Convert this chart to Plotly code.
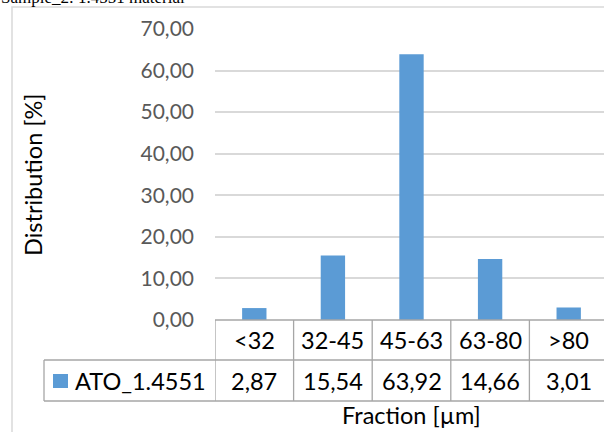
import plotly.graph_objects as go

# Particle size distribution of the powder sample
categories = ["<32", "32-45", "45-63", "63-80", ">80"]
values = [2.87, 15.54, 63.92, 14.66, 3.01]
series_name = "ATO_1.4551"
y_ticks = [0, 10, 20, 30, 40, 50, 60, 70]
chart_title = "Sample_2: 1.4551 material"
x_title = "Fraction [µm]"
y_title = "Distribution [%]"

W, H = 604, 432
L, R, T, B = 215, 604, 29, 320   # plot area edges in pixels
CAT_W = 78.6                     # width of one category column in pixels

BLUE = "#5b9bd5"
GRID = "#d9d9d9"
TABLE = "#a6a6a6"
FONT = "Lato"
FS_TICK = 21
FS = 23.5


def fx(px):
    return (px - L) / (R - L)


def fy(py):
    return (B - py) / (B - T)


def comma(v):
    return f"{v:.2f}".replace(".", ",")


fig = go.Figure(
    go.Bar(
        x=categories,
        y=values,
        name=series_name,
        marker=dict(color=BLUE, line=dict(width=0)),
        width=0.31,
        showlegend=False,
    )
)

shapes = []
# outer chart frame
shapes.append(dict(type="rect", xref="paper", yref="paper",
                   x0=fx(12), x1=fx(700), y0=fy(7), y1=fy(600),
                   line=dict(color=GRID, width=1.5), layer="below"))
# data table: horizontal rules
shapes.append(dict(type="line", xref="paper", yref="paper",
                   x0=0, x1=1, y0=fy(320), y1=fy(320),
                   line=dict(color=TABLE, width=1.3)))
for py in (360, 401):
    shapes.append(dict(type="line", xref="paper", yref="paper",
                       x0=fx(44), x1=1, y0=fy(py), y1=fy(py),
                       line=dict(color=TABLE, width=1.3)))
# data table: column separators on the category scale
for i in range(len(categories) + 1):
    shapes.append(dict(type="line", xref="x", yref="paper",
                       x0=i - 0.5, x1=i - 0.5, y0=fy(320), y1=fy(401),
                       line=dict(color=TABLE, width=1.3)))
# left edge of the series-name cell
shapes.append(dict(type="line", xref="paper", yref="paper",
                   x0=fx(44), x1=fx(44), y0=fy(360), y1=fy(401),
                   line=dict(color=TABLE, width=1.3)))
# legend key
shapes.append(dict(type="rect", xref="paper", yref="paper",
                   x0=fx(53), x1=fx(68), y0=fy(388), y1=fy(374),
                   fillcolor=BLUE, line=dict(width=0)))

annotations = []
for cat, val in zip(categories, values):
    annotations.append(dict(x=cat, xref="x", y=fy(340), yref="paper",
                            text=cat, showarrow=False,
                            xanchor="center", yanchor="middle",
                            font=dict(family=FONT, size=FS, color="black")))
    annotations.append(dict(x=cat, xref="x", y=fy(381), yref="paper",
                            text=comma(val), showarrow=False,
                            xanchor="center", yanchor="middle",
                            font=dict(family=FONT, size=FS, color="black")))
annotations.append(dict(x=fx(73), xref="paper", y=fy(381), yref="paper",
                        text=series_name, showarrow=False,
                        xanchor="left", yanchor="middle",
                        font=dict(family=FONT, size=FS, color="black")))
annotations.append(dict(x=fx(411.5), xref="paper", y=fy(415), yref="paper",
                        text=x_title, showarrow=False,
                        xanchor="center", yanchor="middle",
                        font=dict(family=FONT, size=FS, color="black")))
annotations.append(dict(x=fx(33), xref="paper", y=fy(175), yref="paper",
                        text=y_title, showarrow=False, textangle=-90,
                        xanchor="center", yanchor="middle",
                        font=dict(family=FONT, size=FS, color="black")))
annotations.append(dict(x=fx(-1), xref="paper", y=fy(-2), yref="paper",
                        text=chart_title, showarrow=False,
                        xanchor="left", yanchor="middle",
                        font=dict(family="Liberation Serif", size=17, color="black")))

fig.update_layout(
    width=W, height=H,
    margin=dict(l=L, r=W - R, t=T, b=H - B, autoexpand=False),
    paper_bgcolor="white",
    plot_bgcolor="white",
    separators=",.",
    shapes=shapes,
    annotations=annotations,
    xaxis=dict(
        type="category",
        range=[-0.5, -0.5 + (R - L) / CAT_W],
        showticklabels=False,
        showgrid=False,
        zeroline=False,
        showline=False,
        ticks="",
        fixedrange=True,
    ),
    yaxis=dict(
        range=[0, 70],
        tickvals=y_ticks,
        tickformat=".2f",
        showgrid=True,
        gridcolor=GRID,
        gridwidth=1.5,
        zeroline=False,
        showline=False,
        ticks="",
        ticklabelstandoff=20,
        tickfont=dict(family=FONT, size=FS_TICK, color="#595959"),
        fixedrange=True,
    ),
)

fig.write_html("out.html")
